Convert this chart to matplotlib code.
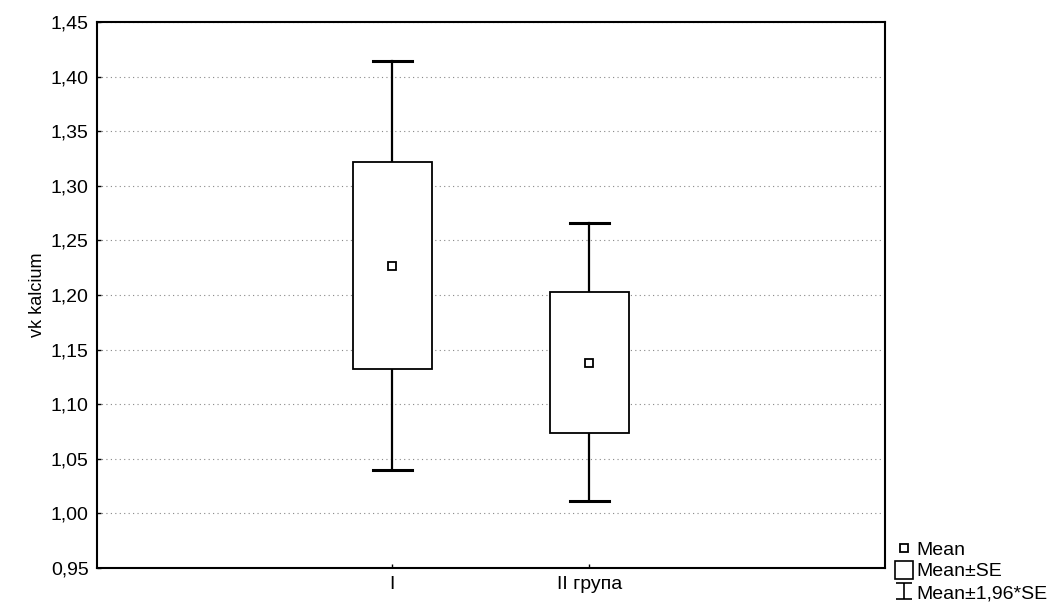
import matplotlib.pyplot as plt
from matplotlib.lines import Line2D
from matplotlib.patches import Rectangle
from matplotlib.path import Path
from matplotlib.ticker import FuncFormatter

plt.rcParams['font.family'] = ['Liberation Sans', 'DejaVu Sans']

groups = ["I", "II група"]
means = [1.227, 1.138]
se_low = [1.132, 1.074]
se_high = [1.322, 1.203]
ci_low = [1.040, 1.011]
ci_high = [1.414, 1.266]

fig = plt.figure(figsize=(10.61, 6.08), dpi=100)
ax = fig.add_axes([0.0914, 0.0658, 0.7426, 0.898])

for i, g in enumerate(groups):
    x = i + 1
    # whiskers (mean +- 1.96*SE)
    ax.plot([x, x], [se_high[i], ci_high[i]], color='black', lw=1.6, zorder=3)
    ax.plot([x, x], [ci_low[i], se_low[i]], color='black', lw=1.6, zorder=3)
    ax.plot([x - 0.1, x + 0.1], [ci_high[i]] * 2, color='black', lw=2.2, zorder=3)
    ax.plot([x - 0.1, x + 0.1], [ci_low[i]] * 2, color='black', lw=2.2, zorder=3)
    # SE box
    ax.add_patch(Rectangle((x - 0.2, se_low[i]), 0.4, se_high[i] - se_low[i],
                           facecolor='white', edgecolor='black', lw=1.3, zorder=3))
    # mean
    ax.plot(x, means[i], marker='s', markersize=6, mfc='white', mec='black',
            mew=1.3, zorder=4)

ax.set_xlim(-0.5, 3.5)
ax.set_ylim(0.95, 1.45)
ax.set_yticks([0.95 + 0.05 * k for k in range(11)])
ax.yaxis.set_major_formatter(FuncFormatter(lambda v, p: f"{v:.2f}".replace('.', ',')))
ax.set_xticks([1, 2])
ax.set_xticklabels(groups)
ax.tick_params(direction='in', length=3, width=1, labelsize=14, pad=6)
ax.set_ylabel("vk kalcium", fontsize=13, labelpad=3)
ax.grid(axis='y', linestyle=(0, (1, 3)), color='#888888', lw=0.8)
ax.set_axisbelow(True)
for s in ax.spines.values():
    s.set_linewidth(1.5)

ibeam = Path([(-1, 1), (1, 1), (0, 1), (0, -1), (-1, -1), (1, -1)],
             [Path.MOVETO, Path.LINETO, Path.MOVETO, Path.LINETO, Path.MOVETO, Path.LINETO])
handles = [
    Line2D([], [], ls='', marker='s', markersize=6, mfc='white', mec='black', mew=1.3),
    Line2D([], [], ls='', marker='s', markersize=13, mfc='white', mec='black', mew=1.2),
    Line2D([], [], ls='', marker=ibeam, markersize=11, mfc='none', mec='black', mew=1.2),
]
fig.legend(handles, ["Mean", "Mean±SE", "Mean±1,96*SE"], loc='lower left',
           bbox_to_anchor=(0.830, -0.013), frameon=False, fontsize=14,
           handletextpad=0.15, labelspacing=0.22, handlelength=1.0, borderpad=0.2)

fig.savefig("out.png", dpi=100)
